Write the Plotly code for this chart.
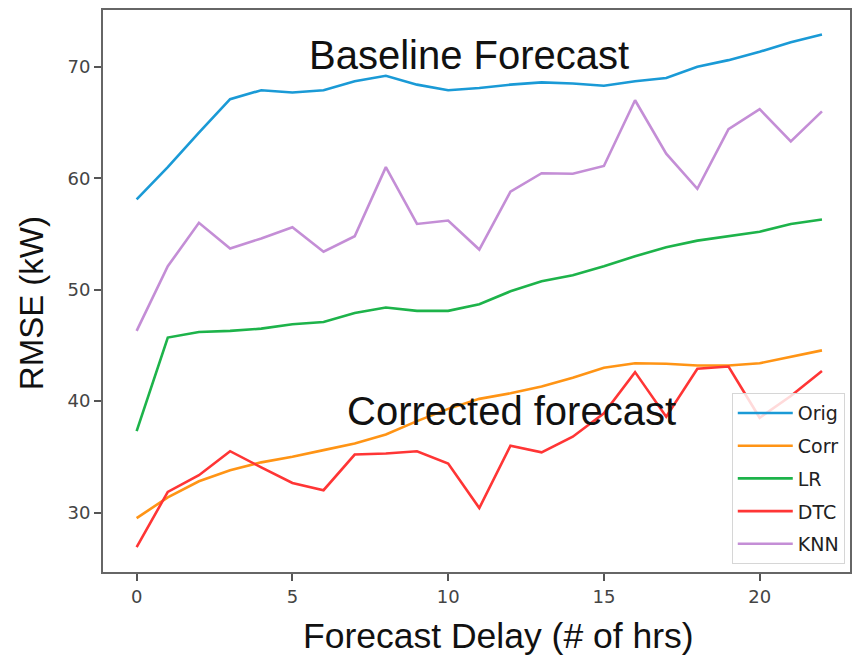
import plotly.graph_objects as go

delay_hrs = list(range(23))
tick_vals_x = [0, 5, 10, 15, 20]
tick_vals_y = [30, 40, 50, 60, 70]

orig = [58.1, 61.0, 64.1, 67.1, 67.9, 67.7, 67.9, 68.7, 69.2, 68.4, 67.9, 68.1,
        68.4, 68.6, 68.5, 68.3, 68.7, 69.0, 70.0, 70.6, 71.35, 72.2, 72.9]
corr = [29.5, 31.35, 32.8, 33.8, 34.5, 35.0, 35.6, 36.2, 37.0, 38.2, 39.3, 40.2,
        40.7, 41.3, 42.1, 43.0, 43.4, 43.35, 43.2, 43.2, 43.4, 43.95, 44.55]
lr = [37.3, 45.7, 46.2, 46.3, 46.5, 46.9, 47.1, 47.9, 48.4, 48.1, 48.1, 48.7,
      49.85, 50.75, 51.3, 52.1, 53.0, 53.8, 54.4, 54.8, 55.2, 55.9, 56.3]
dtc = [26.9, 31.85, 33.35, 35.5, 34.05, 32.65, 32.0, 35.2, 35.3, 35.5, 34.4, 30.4,
       36.0, 35.4, 36.8, 38.9, 42.6, 38.6, 42.9, 43.1, 38.5, 40.45, 42.7]
knn = [46.3, 52.1, 56.0, 53.7, 54.6, 55.6, 53.4, 54.8, 61.0, 55.9, 56.2, 53.6,
       58.8, 60.45, 60.4, 61.1, 67.0, 62.2, 59.05, 64.4, 66.2, 63.3, 66.0]

series_names = ["Orig", "Corr", "LR", "DTC", "KNN"]
series_values = [orig, corr, lr, dtc, knn]
series_colors = ["#1a9ad6", "#ff9415", "#1db34a", "#ff3535", "#c48ed6"]

W, H = 860, 659
ML, MR, MT, MB = 103, 8, 8, 87
PW, PH = W - ML - MR, H - MT - MB


def px_to_paper(px, py):
    return (px - ML) / PW, (H - MB - py) / PH


fig = go.Figure()
for name, vals, col in zip(series_names, series_values, series_colors):
    fig.add_trace(go.Scatter(
        x=delay_hrs, y=vals, mode="lines", name=name, legendgroup=name,
        line=dict(color=col, width=2.6),
    ))

title_font = dict(family="Liberation Sans, Arial, sans-serif", color="#111")

xt_x, xt_y = px_to_paper(500, 636)
yt_x, yt_y = px_to_paper(32, 302)
b_x, b_y = px_to_paper(470, 53)
c_x, c_y = px_to_paper(513, 410)

fig.update_layout(
    width=W, height=H,
    margin=dict(l=ML, r=MR, t=MT, b=MB),
    paper_bgcolor="white", plot_bgcolor="white",
    showlegend=True,
    legend=dict(
        x=0.993, y=0.014, xanchor="right", yanchor="bottom",
        bgcolor="rgba(255,255,255,0.82)", bordercolor="#d6d6d6", borderwidth=1,
        font=dict(family="DejaVu Sans, sans-serif", size=19, color="#222"),
        tracegroupgap=5, traceorder="grouped", itemwidth=55,
    ),
    xaxis=dict(
        range=[-1.08, 22.9], tickvals=tick_vals_x,
        ticktext=[str(v) for v in tick_vals_x],
        showgrid=False, zeroline=False,
        showline=True, mirror=True, linecolor="#666", linewidth=2,
        ticks="outside", ticklen=7, tickwidth=1.5, tickcolor="#555",
        tickfont=dict(family="DejaVu Sans, sans-serif", size=18, color="#444"),
    ),
    yaxis=dict(
        range=[24.66, 75.1], tickvals=tick_vals_y,
        ticktext=[str(v) for v in tick_vals_y],
        showgrid=False, zeroline=False,
        showline=True, mirror=True, linecolor="#666", linewidth=2,
        ticks="outside", ticklen=7, tickwidth=1.5, tickcolor="#555",
        tickfont=dict(family="DejaVu Sans, sans-serif", size=18, color="#444"),
    ),
    annotations=[
        dict(text="Baseline Forecast", x=b_x, y=b_y, xref="paper", yref="paper",
             xanchor="center", yanchor="middle", showarrow=False,
             font=dict(size=40, **title_font)),
        dict(text="Corrected forecast", x=c_x, y=c_y, xref="paper", yref="paper",
             xanchor="center", yanchor="middle", showarrow=False,
             font=dict(size=40, **title_font)),
        dict(text="Forecast Delay (# of hrs)", x=xt_x, y=xt_y,
             xref="paper", yref="paper", xanchor="center", yanchor="middle",
             showarrow=False, font=dict(size=35.5, **title_font)),
        dict(text="RMSE (kW)", x=yt_x, y=yt_y, xref="paper", yref="paper",
             xanchor="center", yanchor="middle", showarrow=False, textangle=-90,
             font=dict(size=33, **title_font)),
    ],
)

fig.write_html(
    "out.html",
    config={"displayModeBar": False},
    post_script="document.body.style.margin='0';document.body.style.padding='0';",
)
